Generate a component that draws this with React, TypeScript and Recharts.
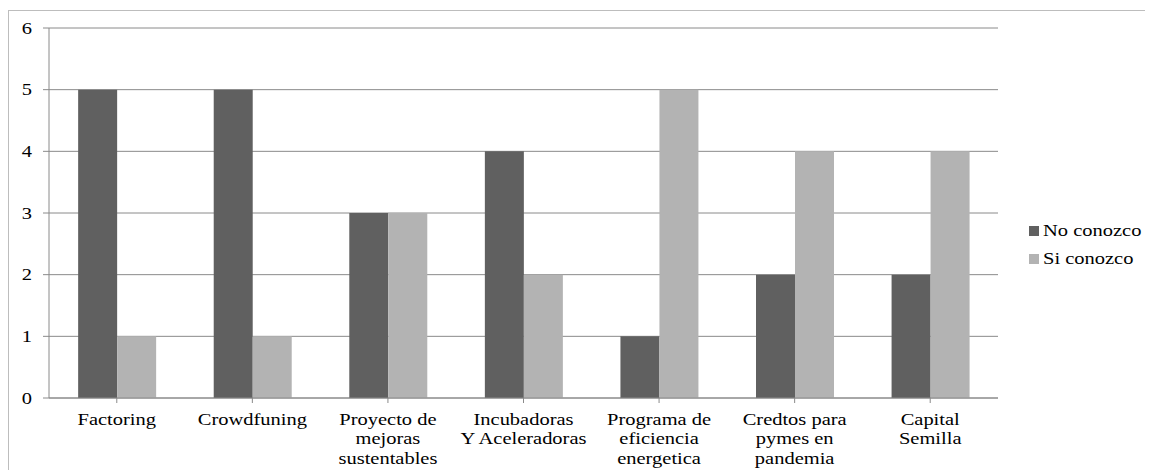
import { BarChart, Bar, XAxis, YAxis, CartesianGrid, Legend } from 'recharts';

const categories = [
  'Factoring',
  'Crowdfuning',
  'Proyecto de\nmejoras\nsustentables',
  'Incubadoras\nY Aceleradoras',
  'Programa de\neficiencia\nenergetica',
  'Credtos para\npymes en\npandemia',
  'Capital\nSemilla',
];
const noConozco = [5, 5, 3, 4, 1, 2, 2];
const siConozco = [1, 1, 3, 2, 5, 4, 4];
const yTicks = [0, 1, 2, 3, 4, 5, 6];

const data = categories.map((name, i) => ({
  name,
  no: noConozco[i],
  si: siConozco[i],
}));

const FONT = "'Liberation Serif', 'Times New Roman', Times, 'Noto Serif', 'DejaVu Serif', serif";
const STRETCH = 1.28;
const DARK = '#606060';
const LIGHT = '#b3b3b3';
const GRID = '#8a8a8a';

// category labels, one tspan per line, widened like the original export
function XTick({ x, y, payload }: any) {
  const lines = String(payload.value).split('\n');
  return (
    <g transform={`translate(${x},${y})`}>
      <text
        transform={`scale(${STRETCH},1)`}
        textAnchor="middle"
        fontFamily={FONT}
        fontSize={16}
        fill="#000"
      >
        {lines.map((l, i) => (
          <tspan key={i} x={0} y={i * 19.5 + 20}>
            {l}
          </tspan>
        ))}
      </text>
    </g>
  );
}

function YTick({ x, y, payload }: any) {
  return (
    <g transform={`translate(${x},${y})`}>
      <text
        transform={`scale(${STRETCH},1)`}
        textAnchor="end"
        dy="0.35em"
        fontFamily={FONT}
        fontSize={16}
        fill="#000"
      >
        {payload.value}
      </text>
    </g>
  );
}

function LegendBox({ payload }: any) {
  return (
    <div style={{ fontFamily: FONT, fontSize: 16, color: '#000', textAlign: 'left' }}>
      {payload.map((p: any) => (
        <div key={p.value} style={{ display: 'flex', alignItems: 'center', height: 28, whiteSpace: 'nowrap' }}>
          <span style={{ width: 10, height: 10, background: p.color, marginRight: 4 }} />
          <span style={{ display: 'inline-block', transform: `scaleX(${STRETCH})`, transformOrigin: 'left center' }}>
            {p.value}
          </span>
        </div>
      ))}
    </div>
  );
}

export default function App() {
  return (
    <div style={{ paddingTop: 2, fontFamily: FONT }}>
      <div style={{ width: 1145, height: 460, overflow: 'hidden' }}>
        <div style={{ width: 1200, height: 520, border: '1px solid #bdbdbd', boxSizing: 'border-box' }}>
          <BarChart
            width={1144}
            height={460}
            data={data}
            margin={{ top: 17, right: 155, left: 0, bottom: 13 }}
            barCategoryGap="21.5%"
            barGap={0}
          >
            <CartesianGrid vertical={false} stroke={GRID} />
            <XAxis
              dataKey="name"
              interval={0}
              height={60}
              tick={<XTick />}
              tickSize={5}
              tickMargin={2}
              axisLine={{ stroke: GRID }}
              tickLine={{ stroke: GRID }}
            />
            <YAxis
              width={40}
              domain={[0, 6]}
              ticks={yTicks}
              tick={<YTick />}
              tickSize={6}
              tickMargin={11}
              axisLine={{ stroke: GRID }}
              tickLine={{ stroke: GRID }}
            />
            <Legend
              layout="vertical"
              align="center"
              verticalAlign="middle"
              wrapperStyle={{ left: 1020, top: 206, width: 130 }}
              content={<LegendBox />}
            />
            <Bar dataKey="no" name="No conozco" fill={DARK} isAnimationActive={false} />
            <Bar dataKey="si" name="Si conozco" fill={LIGHT} isAnimationActive={false} />
          </BarChart>
        </div>
      </div>
    </div>
  );
}
